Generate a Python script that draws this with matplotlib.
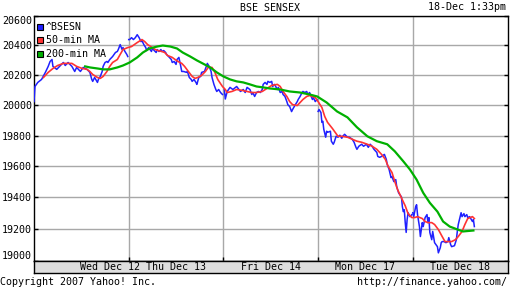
import numpy as np
import matplotlib
matplotlib.use('Agg')
import matplotlib.pyplot as plt
from matplotlib.patches import Rectangle
from matplotlib.ticker import NullLocator, NullFormatter

# x values are in trading days from Wed Dec 12 open (1.0 = one session)
day_names = ['Wed Dec 12', 'Thu Dec 13', 'Fri Dec 14', 'Mon Dec 17', 'Tue Dec 18']
price_ticks = [19000, 19200, 19400, 19600, 19800, 20000, 20200, 20400, 20600]

sensex_t = [
    0.00, 0.01, 0.04, 0.08, 0.12, 0.15, 0.17, 0.19, 0.20, 0.24, 0.27, 0.31, 0.33, 0.36,
    0.40, 0.43, 0.45, 0.49, 0.52, 0.56, 0.59, 0.61, 0.62, 0.64, 0.67, 0.68, 0.70, 0.72,
    0.73, 0.75, 0.77, 0.78, 0.80, 0.83, 0.86, 0.88, 0.89, 0.91, 0.93, 0.94, 0.96, 0.98, 0.99,
    1.00, 1.01, 1.03, 1.05, 1.07, 1.09, 1.11, 1.13, 1.14, 1.16, 1.18, 1.19, 1.21, 1.24,
    1.25, 1.27, 1.29, 1.30, 1.32, 1.34, 1.35, 1.37, 1.39, 1.40, 1.43, 1.45, 1.46, 1.48,
    1.50, 1.51, 1.53, 1.55, 1.56, 1.58, 1.61, 1.62, 1.64, 1.66, 1.67, 1.69, 1.71, 1.72,
    1.74, 1.76, 1.77, 1.80, 1.82, 1.83, 1.85, 1.87, 1.88, 1.90, 1.92, 1.93, 1.95, 1.97, 1.99,
    2.01, 2.02, 2.04, 2.07, 2.10, 2.14, 2.18, 2.21, 2.23, 2.25, 2.28, 2.30, 2.31, 2.33,
    2.35, 2.37, 2.39, 2.41, 2.42, 2.44, 2.46, 2.47, 2.49, 2.51, 2.52, 2.54, 2.57, 2.58,
    2.60, 2.62, 2.63, 2.65, 2.67, 2.68, 2.70, 2.72, 2.73, 2.76, 2.78, 2.79, 2.81, 2.83,
    2.84, 2.86, 2.88, 2.89, 2.91, 2.94, 2.95, 2.97, 2.99,
    3.00, 3.01, 3.03, 3.04, 3.05, 3.06, 3.08, 3.09, 3.10, 3.13, 3.14, 3.16, 3.17, 3.19,
    3.21, 3.23, 3.25, 3.26, 3.28, 3.31, 3.33, 3.36, 3.38, 3.40, 3.41, 3.43, 3.46, 3.48,
    3.51, 3.53, 3.55, 3.57, 3.59, 3.62, 3.63, 3.65, 3.67, 3.70, 3.72, 3.73, 3.75, 3.77,
    3.78, 3.80, 3.82, 3.83, 3.85, 3.88, 3.89, 3.90, 3.91, 3.92, 3.93, 3.94, 3.95, 3.97, 3.99,
    4.00, 4.01, 4.03, 4.04, 4.05, 4.07, 4.08, 4.10, 4.11, 4.13, 4.15, 4.16, 4.17, 4.18,
    4.20, 4.21, 4.23, 4.26, 4.27, 4.29, 4.30, 4.31, 4.33, 4.35, 4.37, 4.38, 4.40, 4.41,
    4.44, 4.46, 4.47, 4.48, 4.50, 4.51, 4.52, 4.54, 4.55, 4.57, 4.58, 4.60, 4.63, 4.64, 4.65,
]
sensex_p = [
    20023, 20123, 20150, 20170, 20217, 20257, 20290, 20303, 20257, 20237, 20257, 20283, 20263, 20283,
    20257, 20223, 20250, 20223, 20250, 20237, 20217, 20170, 20157, 20183, 20150, 20170, 20190, 20223,
    20257, 20283, 20290, 20283, 20303, 20323, 20350, 20357, 20370, 20403, 20370, 20383, 20357, 20337, 20323,
    20437, 20437, 20450, 20437, 20450, 20470, 20450, 20423, 20430, 20403, 20383, 20363, 20383, 20357,
    20377, 20363, 20350, 20370, 20357, 20370, 20357, 20363, 20350, 20337, 20317, 20303, 20283, 20290,
    20270, 20303, 20317, 20257, 20223, 20223, 20217, 20223, 20183, 20170, 20157, 20170, 20150, 20137,
    20183, 20190, 20217, 20223, 20257, 20277, 20257, 20223, 20183, 20137, 20103, 20090, 20103, 20083, 20070,
    20103, 20040, 20090, 20117, 20103, 20123, 20090, 20103, 20083, 20117, 20103, 20070, 20083, 20057,
    20083, 20090, 20083, 20103, 20137, 20150, 20137, 20157, 20150, 20157, 20123, 20137, 20103, 20117,
    20083, 20090, 20070, 20057, 20023, 20003, 19990, 19957, 19970, 20003, 20023, 20037, 20057, 20083,
    20090, 20083, 20090, 20070, 20083, 20037, 20050, 20023, 20037,
    19958, 19971, 19951, 19886, 19893, 19841, 19789, 19828, 19821, 19828, 19763, 19743, 19756, 19795,
    19789, 19802, 19782, 19795, 19808, 19789, 19789, 19776, 19756, 19723, 19710, 19730, 19743, 19730,
    19743, 19723, 19743, 19730, 19710, 19690, 19664, 19658, 19664, 19677, 19645, 19612, 19579, 19527,
    19534, 19501, 19514, 19469, 19429, 19403, 19340, 19309, 19321, 19240, 19177, 19258, 19302, 19277, 19290,
    19302, 19277, 19340, 19353, 19290, 19214, 19151, 19239, 19214, 19271, 19290, 19239, 19271, 19176,
    19131, 19183, 19112, 19087, 19048, 19080, 19112, 19119, 19119, 19112, 19119, 19144, 19099, 19087,
    19093, 19131, 19183, 19227, 19277, 19302, 19277, 19296, 19277, 19290, 19271, 19277, 19246, 19258, 19214,
]

ma50_t = [
    0.10, 0.15, 0.20, 0.25, 0.31, 0.36, 0.40, 0.45, 0.51, 0.56, 0.59, 0.62, 0.67, 0.70,
    0.73, 0.77, 0.80, 0.83, 0.88, 0.91, 0.94, 0.99, 1.03, 1.09, 1.14, 1.17, 1.20, 1.25,
    1.28, 1.31, 1.35, 1.38, 1.41, 1.46, 1.49, 1.52, 1.56, 1.59, 1.63, 1.67, 1.70, 1.73,
    1.77, 1.81, 1.84, 1.88, 1.91, 1.94, 1.99, 2.02, 2.04, 2.09, 2.14, 2.20, 2.25, 2.30,
    2.35, 2.41, 2.46, 2.51, 2.57, 2.60, 2.63, 2.67, 2.70, 2.73, 2.78, 2.81, 2.84, 2.88,
    2.91, 2.97, 3.00, 3.04, 3.07, 3.10, 3.15, 3.18, 3.21, 3.25, 3.31, 3.36, 3.41, 3.46,
    3.52, 3.57, 3.62, 3.67, 3.71, 3.74, 3.78, 3.81, 3.84, 3.89, 3.92, 3.95, 3.99, 4.02,
    4.05, 4.10, 4.13, 4.16, 4.20, 4.23, 4.27, 4.31, 4.34, 4.37, 4.41, 4.45, 4.48, 4.52,
    4.55, 4.58, 4.63, 4.65,
]
ma50_p = [
    20183, 20217, 20243, 20263, 20277, 20277, 20277, 20257, 20243, 20237, 20223, 20203, 20183, 20177,
    20190, 20223, 20257, 20283, 20303, 20337, 20370, 20383, 20390, 20417, 20437, 20423, 20403, 20383,
    20370, 20363, 20357, 20350, 20330, 20317, 20303, 20290, 20277, 20257, 20223, 20190, 20177, 20183,
    20197, 20223, 20250, 20250, 20217, 20170, 20123, 20103, 20083, 20090, 20103, 20097, 20090, 20083,
    20083, 20090, 20110, 20130, 20137, 20123, 20090, 20057, 20023, 20003, 19997, 20017, 20037, 20057,
    20063, 20050, 20023, 19984, 19925, 19886, 19847, 19821, 19795, 19795, 19789, 19776, 19763, 19756,
    19743, 19730, 19710, 19677, 19645, 19599, 19560, 19501, 19449, 19384, 19346, 19296, 19271, 19271,
    19277, 19265, 19246, 19239, 19239, 19227, 19195, 19151, 19119, 19119, 19119, 19131, 19151, 19183,
    19227, 19265, 19277, 19265,
]

ma200_t = [
    0.54, 0.59, 0.67, 0.73, 0.80, 0.88, 0.94, 1.01, 1.09, 1.15, 1.22, 1.30, 1.36, 1.44,
    1.51, 1.57, 1.65, 1.72, 1.78, 1.86, 1.93, 2.00, 2.07, 2.14, 2.21, 2.28, 2.35, 2.42,
    2.49, 2.60, 2.70, 2.81, 2.91, 2.99, 3.09, 3.20, 3.31, 3.41, 3.52, 3.62, 3.73, 3.81,
    3.90, 3.97, 4.04, 4.11, 4.18, 4.26, 4.32, 4.39, 4.47, 4.53, 4.64,
]
ma200_p = [
    20257, 20250, 20243, 20237, 20237, 20250, 20263, 20283, 20317, 20350, 20377, 20390, 20397, 20390,
    20377, 20350, 20323, 20297, 20277, 20250, 20217, 20190, 20170, 20157, 20150, 20137, 20123, 20117,
    20110, 20103, 20090, 20083, 20070, 20057, 20017, 19958, 19919, 19854, 19795, 19763, 19743, 19697,
    19632, 19579, 19514, 19429, 19365, 19309, 19246, 19214, 19196, 19183, 19189,
]

W, H = 512, 288


def fx(x):
    return x / W


def fy(y):
    return 1 - y / H


plt.rcParams['font.family'] = ['DejaVu Sans Mono']
plt.rcParams['font.size'] = 7.2

fig = plt.figure(figsize=(W / 100, H / 100), dpi=100, facecolor='white')

# main plot area: x 34..507.5 px, y 15.5..260.5 px
ax = fig.add_axes([fx(34), fy(260.5), fx(507.5) - fx(34), fy(15.5) - fy(260.5)])
ax.set_xlim(0, 5)
ax.set_yscale('log')
ax.set_ylim(19000, 20600)

# blue index line, broken at each overnight gap
t = np.array(sensex_t)
p = np.array(sensex_p)
day = np.floor(t + 1e-9)
for d in np.unique(day):
    m = day == d
    ax.plot(t[m], p[m], color='#2020ff', lw=1.1, zorder=3)

ax.plot(ma50_t, ma50_p, color='#ff3333', lw=1.2, zorder=4)
ax.plot(ma200_t, ma200_p, color='#00b000', lw=1.6, zorder=5)

ax.set_yticks(price_ticks)
ax.set_yticklabels([str(v) for v in price_ticks])
ax.yaxis.set_minor_locator(NullLocator())
ax.yaxis.set_minor_formatter(NullFormatter())
ax.set_xticks([1, 2, 3, 4])
ax.tick_params(axis='x', direction='in', length=3, width=1, labelbottom=False)
ax.tick_params(axis='y', direction='in', length=3, width=1, left=True, right=True, pad=1.5,
               labelsize=7.2)
ax.grid(True, color='#a8a8a8', lw=1.0, zorder=1)
for s in ax.spines.values():
    s.set_linewidth(1.0)
    s.set_color('black')
labels = ax.get_yticklabels()
labels[0].set_va('bottom')
labels[-1].set_va('top')

# legend, no frame
legend_items = [('^BSESN', '#2020ff'), ('50-min MA', '#ff3333'), ('200-min MA', '#00b000')]
for i, (name, col) in enumerate(legend_items):
    yc = 27 + 13.35 * i
    fig.add_artist(Rectangle((fx(37), fy(yc + 3)), fx(6), 6 / H, facecolor=col,
                             edgecolor='black', lw=0.8, transform=fig.transFigure, zorder=10))
    fig.text(fx(46), fy(yc), name, ha='left', va='center', zorder=10)

# date band under the plot
band = fig.add_axes([fx(34), fy(273.3), fx(507.5) - fx(34), fy(260.5) - fy(273.3)],
                    facecolor='#dedede')
band.set_xlim(0, 5)
band.set_ylim(0, 1)
band.set_xticks([])
band.set_yticks([])
for s in band.spines.values():
    s.set_linewidth(1.0)
label_pos = [0.80, 1.5, 2.5, 3.5, 4.5]
for xpos, name in zip(label_pos, day_names):
    band.text(xpos, 0.5, name, ha='center', va='center')

fig.text(fx(270), fy(8), 'BSE SENSEX', ha='center', va='center')
fig.text(fx(506), fy(7.5), '18-Dec 1:33pm', ha='right', va='center')
fig.text(fx(0), fy(282), 'Copyright 2007 Yahoo! Inc.', ha='left', va='center')
fig.text(fx(507), fy(282), 'http://finance.yahoo.com/', ha='right', va='center')

fig.savefig('out.png', dpi=100)
